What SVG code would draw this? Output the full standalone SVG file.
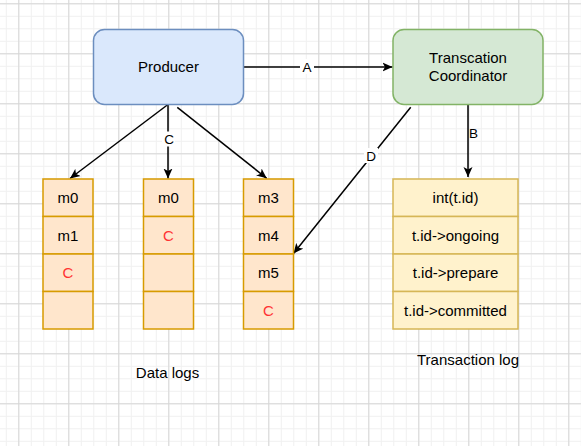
<svg xmlns="http://www.w3.org/2000/svg" width="581" height="446" viewBox="0 0 581 446">
<style>
text{font-family:"Liberation Sans",Arial,sans-serif;font-size:15px;fill:#000;text-anchor:middle}
.lbl{font-size:13.5px}
.red{fill:#FF3333}
.edge{stroke:#000;stroke-width:1.5;fill:none}
.data{fill:#ffe6cc;stroke:#d79b00;stroke-width:1.5}
.tlog{fill:#fff2cc;stroke:#d6b656;stroke-width:1.5}
</style>
<defs>
<pattern id="minor" width="12.5" height="12.5" patternUnits="userSpaceOnUse" x="5.8" y="3.3">
<path d="M0,0.5 H12.5 M0.5,0 V12.5" stroke="#f0f0f0" stroke-width="1" fill="none"/>
</pattern>
<pattern id="major" width="50" height="50" patternUnits="userSpaceOnUse" x="18.3" y="3.3">
<path d="M0,0.5 H50 M0.5,0 V50" stroke="#d6d6d6" stroke-width="1" fill="none"/>
</pattern>
<marker id="arr" viewBox="0 0 10 10" refX="10" refY="5" markerWidth="10" markerHeight="10" markerUnits="userSpaceOnUse" orient="auto">
<path d="M0,0.5 L10,5 L0,9.5 L2.5,5 Z" fill="#000"/>
</marker>
</defs>
<rect width="581" height="446" fill="#fff"/>
<rect width="581" height="446" fill="url(#minor)"/>
<rect width="581" height="446" fill="url(#major)"/>

<g id="connectors">
<line class="edge" x1="243.5" y1="67" x2="392.5" y2="67" marker-end="url(#arr)"/>
<rect x="300" y="59" width="14" height="15" fill="#fff"/>
<text class="lbl" x="307" y="71.5">A</text>
<line class="edge" x1="168" y1="104.5" x2="168" y2="178.5" marker-end="url(#arr)"/>
<rect x="162" y="131.5" width="13" height="15" fill="#fff"/>
<text class="lbl" x="169" y="144">C</text>
<line class="edge" x1="167.3" y1="105" x2="70" y2="178.5" marker-end="url(#arr)"/>
<line class="edge" x1="177.3" y1="107.3" x2="266.7" y2="178.3" marker-end="url(#arr)"/>
<line class="edge" x1="468" y1="104.5" x2="468" y2="177" marker-end="url(#arr)"/>
<text class="lbl" x="473.5" y="138">B</text>
<line class="edge" x1="410.7" y1="107.3" x2="293.5" y2="253.5" marker-end="url(#arr)"/>
<rect x="364" y="148" width="14" height="15" fill="#fff"/>
<text class="lbl" x="371" y="160.5">D</text>
</g>

<g id="producer">
<rect x="93.5" y="29.5" width="150" height="75" rx="11" fill="#dae8fc" stroke="#6c8ebf" stroke-width="1.5"/>
<text x="168.5" y="72">Producer</text>
</g>

<g id="coordinator">
<rect x="393" y="29.5" width="150" height="75" rx="11" fill="#d5e8d4" stroke="#82b366" stroke-width="1.5"/>
<text x="468" y="63">Transcation</text>
<text x="468" y="81">Coordinator</text>
</g>

<g id="log1">
<rect class="data" x="43" y="179" width="50" height="37.5"/>
<rect class="data" x="43" y="216.5" width="50" height="37.5"/>
<rect class="data" x="43" y="254" width="50" height="37.5"/>
<rect class="data" x="43" y="291.5" width="50" height="37.5"/>
<text x="68" y="203">m0</text>
<text x="68" y="240.5">m1</text>
<text class="red" x="68" y="278">C</text>
</g>

<g id="log2">
<rect class="data" x="143.5" y="179" width="50" height="37.5"/>
<rect class="data" x="143.5" y="216.5" width="50" height="37.5"/>
<rect class="data" x="143.5" y="254" width="50" height="37.5"/>
<rect class="data" x="143.5" y="291.5" width="50" height="37.5"/>
<text x="168.5" y="203">m0</text>
<text class="red" x="168.5" y="240.5">C</text>
</g>

<g id="log3">
<rect class="data" x="243.5" y="179" width="50" height="37.5"/>
<rect class="data" x="243.5" y="216.5" width="50" height="37.5"/>
<rect class="data" x="243.5" y="254" width="50" height="37.5"/>
<rect class="data" x="243.5" y="291.5" width="50" height="37.5"/>
<text x="268.5" y="203">m3</text>
<text x="268.5" y="240.5">m4</text>
<text x="268.5" y="278">m5</text>
<text class="red" x="268.5" y="315.5">C</text>
</g>

<g id="txlog">
<rect class="tlog" x="393" y="179" width="125" height="37.5"/>
<rect class="tlog" x="393" y="216.5" width="125" height="37.5"/>
<rect class="tlog" x="393" y="254" width="125" height="37.5"/>
<rect class="tlog" x="393" y="291.5" width="125" height="37.5"/>
<text x="455.5" y="203">int(t.id)</text>
<text x="455.5" y="240.5">t.id-&gt;ongoing</text>
<text x="455.5" y="278">t.id-&gt;prepare</text>
<text x="455.5" y="315.5">t.id-&gt;committed</text>
</g>

<g id="labels">
<text x="167.5" y="378">Data logs</text>
<text x="468" y="365">Transaction log</text>
</g>
</svg>
